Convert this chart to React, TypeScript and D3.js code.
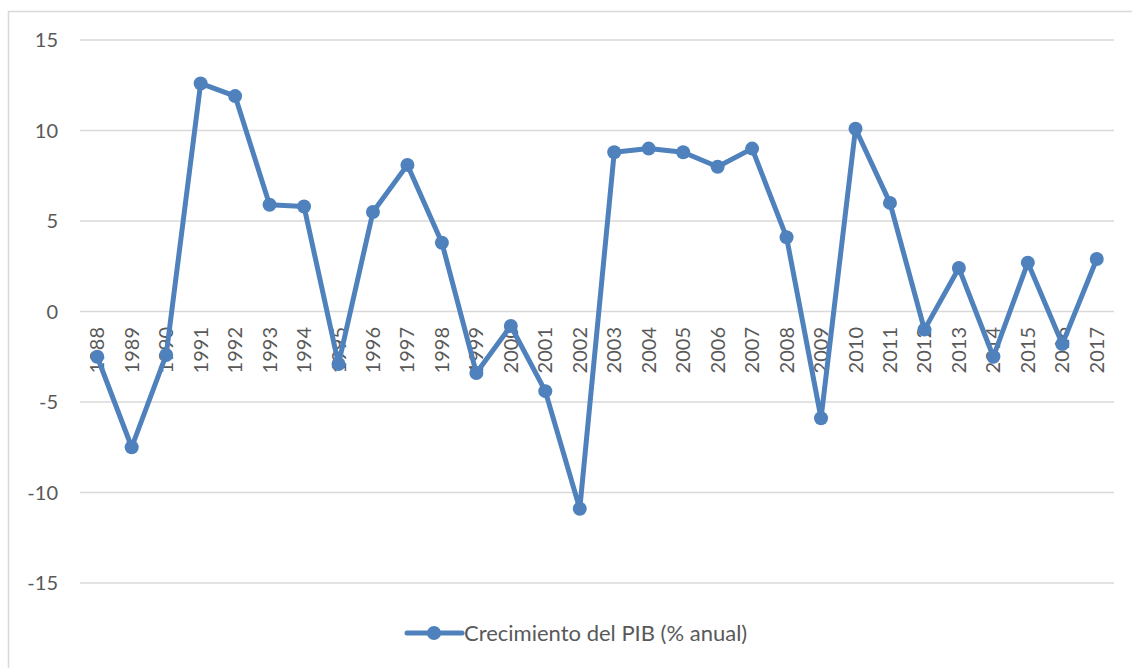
import React from "react";
import * as d3 from "d3";

const years = ["1988","1989","1990","1991","1992","1993","1994","1995","1996","1997","1998","1999","2000","2001","2002","2003","2004","2005","2006","2007","2008","2009","2010","2011","2012","2013","2014","2015","2016","2017"];
const growth = [-2.5,-7.5,-2.4,12.6,11.9,5.9,5.8,-2.9,5.5,8.1,3.8,-3.4,-0.8,-4.4,-10.9,8.8,9.0,8.8,8.0,9.0,4.1,-5.9,10.1,6.0,-1.0,2.4,-2.5,2.7,-1.8,2.9];
const yTicks = [15,10,5,0,-5,-10,-15];
const seriesName = "Crecimiento del PIB (% anual)";

const W = 1132, H = 668;
const color = "#4F81BD";
const textColor = "#595959";
const font = "Lato, 'Open Sans', sans-serif";

export default function App() {
  const x = d3.scalePoint<string>().domain(years).range([80, 1114]).padding(0.5);
  const y = d3.scaleLinear().domain([-15, 15]).range([583, 40]);
  const line = d3.line<number>().x((_, i) => x(years[i])!).y(d => y(d));
  return (
    <svg width={W} height={H} style={{ position: "absolute", left: 0, top: 0, background: "#fff" }}>
      <rect x={8.5} y={11.5} width={1200} height={700} fill="#fff" stroke="#d9d9d9" strokeWidth={1.5} />
      {yTicks.map(t => (
        <g key={t}>
          <line x1={80} x2={1114} y1={y(t)} y2={y(t)} stroke="#d9d9d9" strokeWidth={1.5} />
          <text x={58} y={y(t)} dy="0.36em" textAnchor="end" fontFamily={font} fontSize={20} fill={textColor}>{t}</text>
        </g>
      ))}
      {years.map(yr => (
        <text key={yr} transform={`translate(${x(yr)! + 7},${327}) rotate(-90)`} textAnchor="end" fontFamily={font} fontSize={20} fill={textColor}>{yr}</text>
      ))}
      <path d={line(growth)!} fill="none" stroke={color} strokeWidth={5} strokeLinejoin="round" />
      {growth.map((v, i) => (
        <circle key={i} cx={x(years[i])} cy={y(v)} r={7} fill={color} />
      ))}
      <line x1={407} x2={462} y1={633} y2={633} stroke={color} strokeWidth={5} strokeLinecap="round" />
      <circle cx={434} cy={633} r={7} fill={color} />
      <text x={464} y={633} dy="0.36em" fontFamily={font} fontSize={22} fill={textColor}>{seriesName}</text>
    </svg>
  );
}
